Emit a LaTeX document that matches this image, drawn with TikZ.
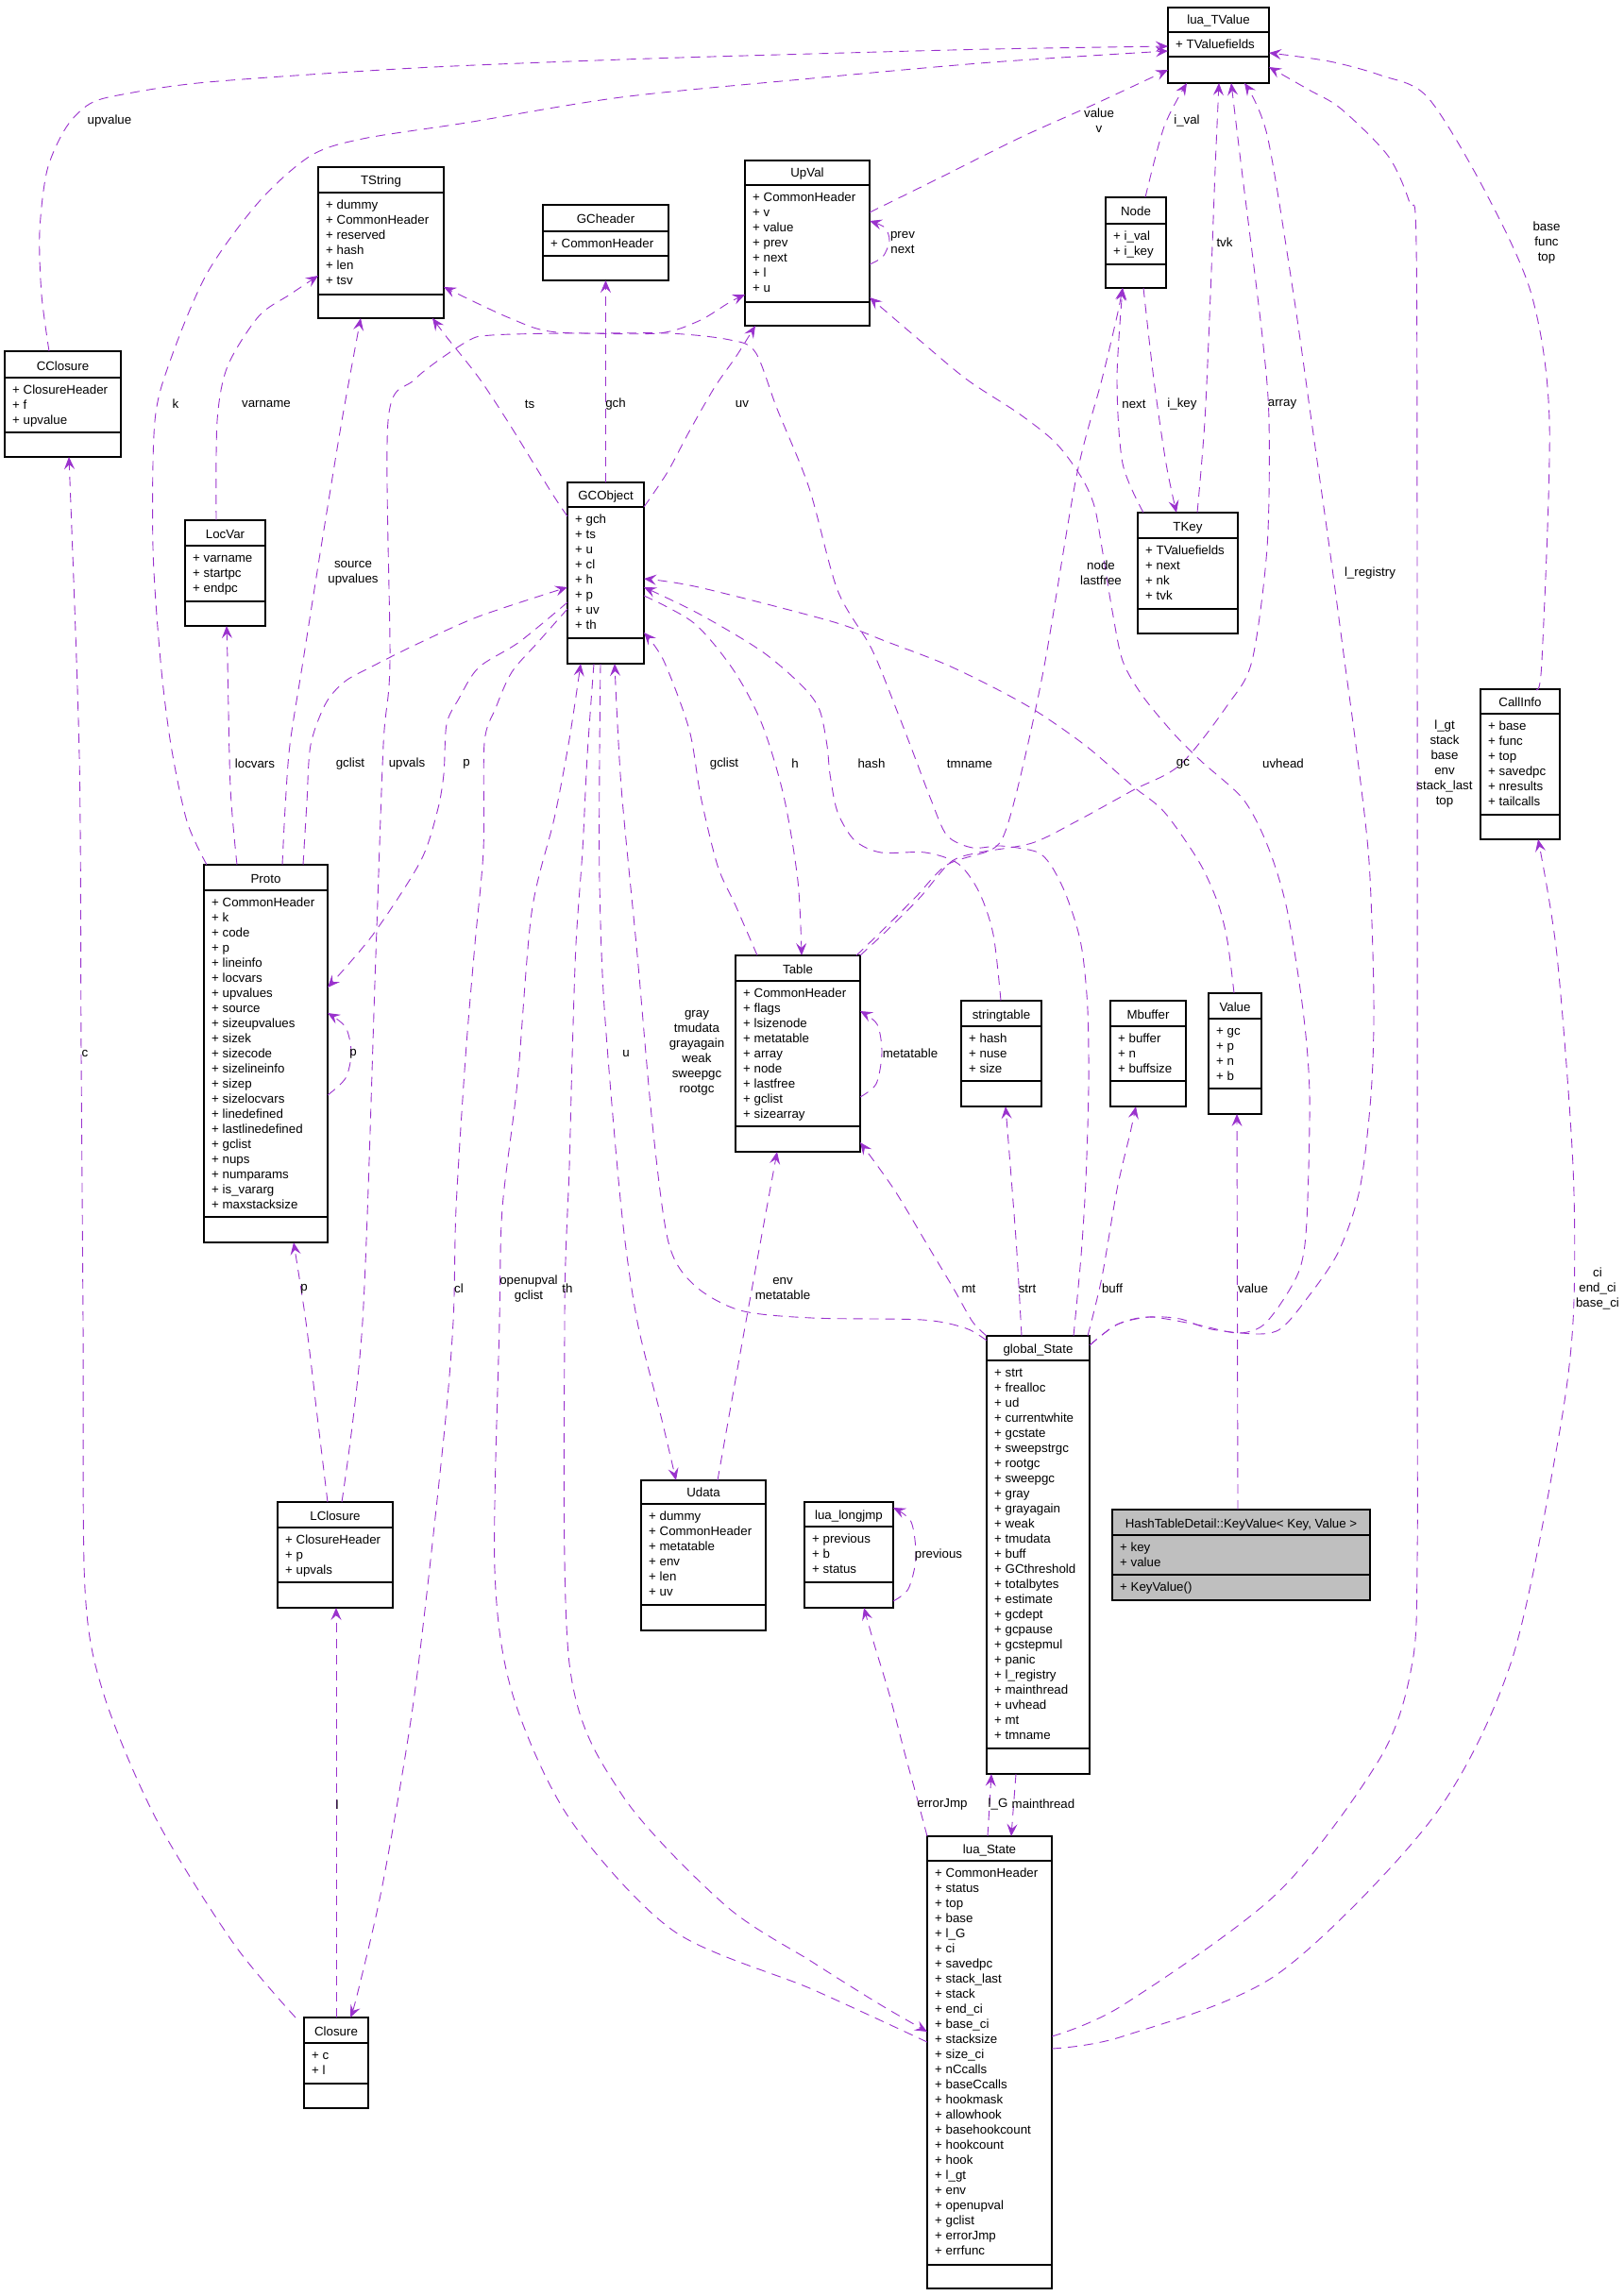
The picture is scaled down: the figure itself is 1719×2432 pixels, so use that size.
\documentclass[tikz,border=0pt]{standalone}
\usepackage{fontspec}
\setmainfont{Liberation Sans}
\usetikzlibrary{arrows.meta}

\definecolor{relcolor}{HTML}{9A32CD}
\definecolor{keyvaluefill}{HTML}{BFBFBF}
\newcommand{\dxfont}{\fontsize{13.3}{16}\selectfont}

\tikzset{
  classbox/.style={draw=black, line width=1.1pt, inner sep=0pt, outer sep=0pt},
  classline/.style={draw=black, line width=1.1pt},
  classtitle/.style={font=\dxfont, inner sep=0pt, anchor=base},
  classattrs/.style={font=\dxfont, inner sep=0pt, anchor=north west, align=left},
  rel/.style={draw=relcolor, line width=0.9pt, dash pattern=on 10pt off 7pt,
    -{Stealth[length=13pt,width=11pt,inset=5pt]}},
  lbl/.style={font=\dxfont, inner sep=0pt, align=center},
}

% name, x1, y1, x2, y2, first rule, second rule, title, attributes
\newcommand{\umlclass}[9]{%
  \node[classbox, minimum width={(#4-#2)*1pt}, minimum height={(#5-#3)*1pt}] (#1) at ({(#2+#4)/2},{(#3+#5)/2}) {};
  \draw[classline] (#2,#6) -- (#4,#6) (#2,#7) -- (#4,#7);
  \node[classtitle] (#1-title) at ({(#2+#4)/2},{#6-8}) {#8};
  \node[classattrs] (#1-attrs) at ({#2+8},{#6+5.8}) {\strut#9};
}

\begin{document}
\begin{tikzpicture}[x=1pt,y=-1pt]
\useasboundingbox (0,0) rectangle (1719,2432);

\umlclass{luaTValue}{1237}{8}{1344}{88}{34}{60}{lua\_TValue}{+ TValuefields}
\umlclass{TString}{337}{177}{470}{337}{204}{312}{TString}{+ dummy\\+ CommonHeader\\+ reserved\\+ hash\\+ len\\+ tsv}
\umlclass{GCheader}{575}{217}{708}{297}{245}{271}{GCheader}{+ CommonHeader}
\umlclass{UpVal}{789}{170}{921}{345}{196}{320}{UpVal}{+ CommonHeader\\+ v\\+ value\\+ prev\\+ next\\+ l\\+ u}
\umlclass{Node}{1171}{209}{1235}{305}{237}{280}{Node}{+ i\_val\\+ i\_key}
\umlclass{CClosure}{5}{372}{128}{484}{400}{458}{CClosure}{+ ClosureHeader\\+ f\\+ upvalue}
\umlclass{LocVar}{196}{551}{281}{663}{578}{637}{LocVar}{+ varname\\+ startpc\\+ endpc}
\umlclass{GCObject}{601}{511}{682}{703}{537}{676}{GCObject}{+ gch\\+ ts\\+ u\\+ cl\\+ h\\+ p\\+ uv\\+ th}
\umlclass{TKey}{1205}{543}{1311}{671}{570}{645}{TKey}{+ TValuefields\\+ next\\+ nk\\+ tvk}
\umlclass{CallInfo}{1568}{730}{1652}{889}{756}{863}{CallInfo}{+ base\\+ func\\+ top\\+ savedpc\\+ nresults\\+ tailcalls}
\umlclass{Proto}{216}{916}{347}{1316}{943}{1289}{Proto}{+ CommonHeader\\+ k\\+ code\\+ p\\+ lineinfo\\+ locvars\\+ upvalues\\+ source\\+ sizeupvalues\\+ sizek\\+ sizecode\\+ sizelineinfo\\+ sizep\\+ sizelocvars\\+ linedefined\\+ lastlinedefined\\+ gclist\\+ nups\\+ numparams\\+ is\_vararg\\+ maxstacksize}
\umlclass{Table}{779}{1012}{911}{1220}{1039}{1193}{Table}{+ CommonHeader\\+ flags\\+ lsizenode\\+ metatable\\+ array\\+ node\\+ lastfree\\+ gclist\\+ sizearray}
\umlclass{stringtable}{1018}{1060}{1103}{1172}{1087}{1145}{stringtable}{+ hash\\+ nuse\\+ size}
\umlclass{Mbuffer}{1176}{1060}{1256}{1172}{1087}{1145}{Mbuffer}{+ buffer\\+ n\\+ buffsize}
\umlclass{Value}{1280}{1052}{1336}{1180}{1079}{1153}{Value}{+ gc\\+ p\\+ n\\+ b}
\umlclass{globalState}{1045}{1415}{1154}{1879}{1441}{1852}{global\_State}{+ strt\\+ frealloc\\+ ud\\+ currentwhite\\+ gcstate\\+ sweepstrgc\\+ rootgc\\+ sweepgc\\+ gray\\+ grayagain\\+ weak\\+ tmudata\\+ buff\\+ GCthreshold\\+ totalbytes\\+ estimate\\+ gcdept\\+ gcpause\\+ gcstepmul\\+ panic\\+ l\_registry\\+ mainthread\\+ uvhead\\+ mt\\+ tmname}
\fill[keyvaluefill] (1178,1599) rectangle (1451,1695);
\umlclass{KeyValue}{1178}{1599}{1451}{1695}{1626}{1668}{HashTableDetail::KeyValue< Key, Value >}{+ key\\+ value}
\node[classattrs] (KeyValue-ops) at (1186,1673.8) {\strut+ KeyValue()};
\umlclass{luaLongjmp}{852}{1591}{946}{1703}{1617}{1676}{lua\_longjmp}{+ previous\\+ b\\+ status}
\umlclass{LClosure}{294}{1591}{416}{1703}{1618}{1676}{LClosure}{+ ClosureHeader\\+ p\\+ upvals}
\umlclass{Udata}{679}{1568}{811}{1727}{1593}{1700}{Udata}{+ dummy\\+ CommonHeader\\+ metatable\\+ env\\+ len\\+ uv}
\umlclass{Closure}{322}{2137}{390}{2233}{2164}{2207}{Closure}{+ c\\+ l}
\umlclass{luaState}{982}{1945}{1114}{2424}{1971}{2399}{lua\_State}{+ CommonHeader\\+ status\\+ top\\+ base\\+ l\_G\\+ ci\\+ savedpc\\+ stack\_last\\+ stack\\+ end\_ci\\+ base\_ci\\+ stacksize\\+ size\_ci\\+ nCcalls\\+ baseCcalls\\+ hookmask\\+ allowhook\\+ basehookcount\\+ hookcount\\+ hook\\+ l\_gt\\+ env\\+ openupval\\+ gclist\\+ errorJmp\\+ errfunc}

%\draw[help lines] (0,0) grid[step=100] (1719,2432);
\draw[rel] plot[smooth] coordinates {([xshift=47pt]CClosure.north west) (44,312) (42,245) (50,180) (70,135) (95,110) (130,100) (220,87) (440,72) (660,63) (860,57) (1050,52) ([yshift=-41pt]luaTValue.north west)};
\draw[rel] plot[smooth] coordinates {([xshift=3pt]Proto.north west) (198,870) (181,789) (170,700) (162,580) (164,446) (181,380) (219,290) (274,214) (329,165) (384,147) (494,130) (658,103) (860,83) (1050,66) ([yshift=-46pt]luaTValue.north west)};
\draw[rel] plot[smooth] coordinates {([yshift=-55pt]UpVal.north east) (1000,186) (1080,146) (1160,110) ([yshift=-66pt]luaTValue.north west)};
\draw[rel] plot[smooth] coordinates {([xshift=42pt]Node.north west) (1233,134) ([xshift=20pt]luaTValue.south west)};
\draw[rel] plot[smooth] coordinates {([xshift=63pt]TKey.north west) (1276,446) (1282,312) (1287,179) ([xshift=54pt]luaTValue.south west)};
\draw[rel] plot[smooth] coordinates {(Table.north east) (940,985) (975,950) (1007,913) (1037,903) (1093,893) (1140,870) (1200,837) (1250,810) (1300,747) (1326,700) (1342,580) (1344,446) (1337,357) (1315,179) ([xshift=67pt]luaTValue.south west)};
\draw[rel] plot[smooth] coordinates {([xshift=-4pt]Table.north east) (935,985) (970,950) (1003,916) (1050,900) (1065,880) (1083,813) (1107,700) (1140,505) (1167,402) (1183,335) ([xshift=18pt]Node.south west)};
\draw[rel] plot[smooth] coordinates {([yshift=-10pt]globalState.north east) (1183,1403) (1217,1395) (1250,1397) (1283,1408) (1333,1413) (1357,1407) (1383,1377) (1417,1327) (1440,1260) (1452,1160) (1455,1060) (1450,913) (1437,797) (1424,700) (1408,580) (1389,446) (1370,312) (1342,143) ([xshift=81pt]luaTValue.south west)};
\draw[rel] plot[smooth] coordinates {([yshift=-10pt]globalState.north east) (1183,1403) (1217,1395) (1267,1403) (1310,1412) (1336,1405) (1357,1380) (1377,1343) (1384,1293) (1387,1160) (1380,1070) (1363,963) (1343,897) (1317,847) (1273,807) (1243,777) (1210,737) (1189,700) (1178,647) (1167,580) (1159,536) (1145,505) (1118,469) (1079,438) (1024,402) (970,357) ([yshift=-145pt]UpVal.north east)};
\draw[rel] plot[smooth] coordinates {([xshift=59pt]CallInfo.north west) (1633,700) (1641,446) (1622,312) (1572,201) (1512,103) (1463,80) (1408,65) ([yshift=-48pt]luaTValue.north east)};
\draw[rel] plot[smooth] coordinates {([yshift=-212pt]luaState.north east) (1189,2124) (1353,2005) (1463,1860) (1496,1760) (1501,1650) (1501,1400) (1501,700) (1500,260) (1493,215) (1470,165) (1420,115) (1386,95) ([yshift=-63pt]luaTValue.north east)};
\draw[rel] plot[smooth] coordinates {([yshift=-225pt]luaState.north east) (1189,2157) (1353,2091) (1517,1926) (1600,1762) (1649,1532) (1666,1400) (1666,1236) (1649,1012) ([xshift=61pt]CallInfo.south west)};
\draw[rel] plot[smooth] coordinates {([yshift=-110pt]UpVal.north east) (935,272) (942,255) (937,241) ([yshift=-64pt]UpVal.north east)};
\draw[rel] plot[smooth] coordinates {([yshift=-26pt]GCObject.north east) (707,500) (730,457) (757,410) (780,377) ([xshift=11pt]UpVal.south west)};
\draw[rel] (GCObject.north) -- (GCheader.south);
\draw[rel] plot[smooth] coordinates {([yshift=-36pt]GCObject.north west) (583,520) (540,450) (507,400) (473,357) ([xshift=-12pt]TString.south east)};
\draw[rel] plot[smooth] coordinates {([xshift=33pt]LocVar.north west) (230,446) (241,388) (274,335) (307,312) ([yshift=-115pt]TString.north west)};
\draw[rel] plot[smooth] coordinates {([xshift=83pt]Proto.north west) (302,856) (307,789) (321,700) (340,580) (362,446) ([xshift=45pt]TString.south west)};
\draw[rel] plot[smooth] coordinates {([xshift=35pt]Proto.north west) (244,834) (241,700) ([xshift=44pt]LocVar.south west)};
\draw[rel] plot[smooth] coordinates {([xshift=105pt]Proto.north west) (325,850) (329,789) (345,745) (365,722) (392,707) (440,683) (507,653) ([yshift=-111pt]GCObject.north west)};
\draw[rel] plot[smooth] coordinates {([yshift=-127pt]GCObject.north west) (550,680) (507,707) (486,740) (473,767) (470,820) (463,860) (445,913) (395,990) ([yshift=-130pt]Proto.north east)};
\draw[rel] plot[smooth] coordinates {([yshift=-134pt]GCObject.north west) (570,680) (542,712) (525,750) (513,787) (512,900) (503,1000) (493,1120) (483,1280) (480,1400) (469,1532) (439,1795) (406,1992) (379,2110) ([xshift=49pt]Closure.north west)};
\draw[rel] plot[smooth] coordinates {([xshift=23pt]Table.north west) (779,959) (760,917) (742,843) (730,773) (703,700) ([yshift=-159pt]GCObject.north east)};
\draw[rel] plot[smooth] coordinates {([yshift=-120pt]GCObject.north east) (735,660) (777,710) (807,767) (830,843) (845,933) ([xshift=70pt]Table.north west)};
\draw[rel] plot[smooth] coordinates {([xshift=42pt]stringtable.north west) (1052,990) (1037,945) (1015,915) (980,903) (933,903) (905,890) (887,860) (879,820) (876,790) (868,752) (850,727) (807,690) (740,650) ([yshift=-111pt]GCObject.north east)};
\draw[rel] plot[smooth] coordinates {([xshift=27pt]Value.north west) (1300,997) (1290,957) (1270,913) (1233,860) (1200,833) (1150,790) (1097,753) (1050,727) (1000,703) (940,680) (880,658) (740,622) ([yshift=-102pt]GCObject.north east)};
\draw[rel] plot[smooth] coordinates {([xshift=92pt]globalState.north west) (1145,1330) (1150,1250) (1153,1150) (1152,1070) (1147,1013) (1140,980) (1127,943) (1112,915) (1097,902) (1060,896) (1030,898) (1003,885) (986,847) (967,797) (950,753) (923,687) (887,625) (857,517) (823,433) (800,373) (773,360) (707,353) (590,352) (540,337) ([yshift=-127pt]TString.north east)};
\draw[rel] plot[smooth] coordinates {([yshift=-5pt]globalState.north west) (1023,1407) (977,1398) (860,1396) (784,1388) (735,1361) (708,1316) (691,1191) (675,1012) (658,834) ([xshift=50pt]GCObject.south west)};
\draw[rel] plot[smooth] coordinates {([yshift=-218pt]luaState.north west) (860,2107) (713,2045) (603,1926) (543,1795) (524,1663) (529,1400) (532,1280) (548,1146) (563,967) (587,867) (603,783) ([xshift=14pt]GCObject.south west)};
\draw[rel] plot[smooth] coordinates {([xshift=28pt]GCObject.south west) (622,800) (617,900) (610,1000) (606,1120) (603,1236) (598,1400) (603,1762) (658,1900) (768,2018) (860,2078) (930,2122) ([yshift=-207pt]luaState.north west)};
\draw[rel] plot[smooth] coordinates {([xshift=35pt]GCObject.south west) (635,800) (635,933) (640,1067) (658,1280) (675,1400) (700,1500) ([xshift=37pt]Udata.north west)};
\draw[rel] plot[smooth] coordinates {([xshift=81pt]Udata.north west) (790,1400) ([xshift=44pt]Table.south west)};
\draw[rel] plot[smooth] coordinates {(globalState.north west) (1030,1400) (1010,1365) (983,1320) (947,1260) ([yshift=-198pt]Table.north east)};
\draw[rel] plot[smooth] coordinates {([xshift=37pt]globalState.north west) (1077,1327) (1072,1260) ([xshift=47pt]stringtable.south west)};
\draw[rel] plot[smooth] coordinates {([xshift=107pt]globalState.north west) (1167,1353) (1183,1260) (1197,1200) ([xshift=27pt]Mbuffer.south west)};
\draw[rel] ([xshift=133pt]KeyValue.north west) -- ([xshift=30pt]Value.south west);
\draw[rel] plot[smooth] coordinates {([yshift=-150pt]Table.north east) (928,1148) (934,1115) (929,1085) ([yshift=-59pt]Table.north east)};
\draw[rel] ([xshift=64pt]luaState.north west) -- ([xshift=5pt]globalState.south west);
\draw[rel] ([xshift=31pt]globalState.south west) -- ([xshift=89pt]luaState.north west);
\draw[rel] plot[smooth] coordinates {(luaState.north west) (970,1900) (959,1860) (942,1795) (926,1742) ([xshift=63pt]luaLongjmp.south west)};
\draw[rel] plot[smooth] coordinates {([yshift=-105pt]luaLongjmp.north east) (962,1683) (970,1650) (965,1612) ([yshift=-6pt]luaLongjmp.north east)};
\draw[rel] plot[smooth] coordinates {([xshift=-9pt]Closure.north west) (247,2058) (165,1926) (110,1795) (90,1683) (88,1400) (86,1116) (84,800) ([xshift=68pt]CClosure.south west)};
\draw[rel] ([xshift=34pt]Closure.north west) -- ([xshift=62pt]LClosure.south west);
\draw[rel] plot[smooth] coordinates {([xshift=53pt]LClosure.north west) (336,1500) (324,1400) ([xshift=95pt]Proto.south west)};
\draw[rel] plot[smooth] coordinates {([xshift=68pt]LClosure.north west) (384,1400) (398,1012) (406,789) (413,700) (411,446) (439,402) (494,362) (521,355) (603,353) (697,353) (740,340) (773,320) ([yshift=-142pt]UpVal.north west)};
\draw[rel] plot[smooth] coordinates {([yshift=-244pt]Proto.north east) (366,1142) (372,1115) (366,1088) ([yshift=-157pt]Proto.north east)};
\draw[rel] plot[smooth] coordinates {([xshift=6pt]TKey.north west) (1189,491) (1183,402) ([xshift=18pt]Node.south west)};
\draw[rel] plot[smooth] coordinates {([xshift=40pt]Node.south west) (1222,402) (1235,491) ([xshift=41pt]TKey.north west)};

\path
(116,128) node[lbl] (l-upvalue) {upvalue}
(186,428) node[lbl] (l-k) {k}
(282,428) node[lbl] (l-varname) {varname}
(561,428) node[lbl] (l-ts) {ts}
(652,428) node[lbl] (l-gch) {gch}
(786,428) node[lbl] (l-uv) {uv}
(1164,128) node[lbl] (l-valuev) {value\\v}
(1257,128) node[lbl] (l-ival) {i\_val}
(956,257) node[lbl] (l-prevnext) {prev\\next}
(1297,257) node[lbl] (l-tvk) {tvk}
(1638,257) node[lbl] (l-basefunctop) {base\\func\\top}
(1201,428) node[lbl] (l-next) {next}
(1252,428) node[lbl] (l-ikey) {i\_key}
(1358,428) node[lbl] (l-array) {array}
(1166,607) node[lbl] (l-nodelastfree) {node\\lastfree}
(1451,607) node[lbl] (l-lregistry) {l\_registry}
(374,607) node[lbl] (l-sourceupvalues) {source\\upvalues}
(270,809) node[lbl] (l-locvars) {locvars}
(371,809) node[lbl] (l-gclistproto) {gclist}
(431,809) node[lbl] (l-upvals) {upvals}
(494,809) node[lbl] (l-pgc) {p}
(767,809) node[lbl] (l-gclisttable) {gclist}
(842,809) node[lbl] (l-h) {h}
(923,809) node[lbl] (l-hash) {hash}
(1027,809) node[lbl] (l-tmname) {tmname}
(1253,809) node[lbl] (l-gc) {gc}
(1359,809) node[lbl] (l-uvhead) {uvhead}
(1530,809) node[lbl] (l-lgt) {l\_gt\\stack\\base\\env\\stack\_last\\top}
(90,1116) node[lbl] (l-c) {c}
(374,1116) node[lbl] (l-pself) {p}
(663,1116) node[lbl] (l-u) {u}
(738,1115) node[lbl] (l-gray) {gray\\tmudata\\grayagain\\weak\\sweepgc\\rootgc}
(964,1116) node[lbl] (l-metatable) {metatable}
(322,1365) node[lbl] (l-plclosure) {p}
(486,1365) node[lbl] (l-cl) {cl}
(560,1365) node[lbl] (l-openupval) {openupval\\gclist}
(601,1365) node[lbl] (l-th) {th}
(829,1365) node[lbl] (l-envmetatable) {env\\metatable}
(1026,1365) node[lbl] (l-mt) {mt}
(1088,1365) node[lbl] (l-strt) {strt}
(1178,1365) node[lbl] (l-buff) {buff}
(1327,1365) node[lbl] (l-value) {value}
(1692,1365) node[lbl] (l-ci) {ci\\end\_ci\\base\_ci}
(994,1647) node[lbl] (l-previous) {previous}
(357,1912) node[lbl] (l-l) {l}
(998,1911) node[lbl] (l-errorjmp) {errorJmp}
(1057,1911) node[lbl] (l-lG) {l\_G}
(1105,1911) node[lbl] (l-mainthread) {mainthread};
\end{tikzpicture}
\end{document}
